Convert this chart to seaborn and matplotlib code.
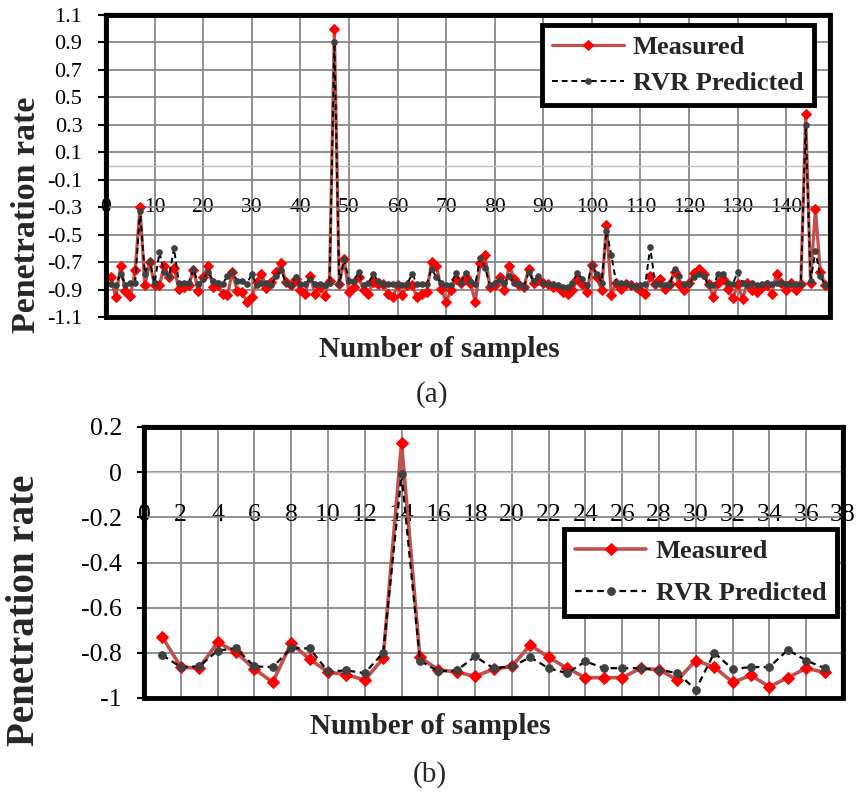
import matplotlib
matplotlib.use("Agg")
import matplotlib.pyplot as plt
from matplotlib.patches import Rectangle
import seaborn as sns
import pandas as pd

# ---- panel (a): 148 samples ----
measured_a = [
    -0.81, -0.955, -0.73, -0.91, -0.95, -0.76, -0.30, -0.87, -0.70, -0.87,
    -0.87, -0.725, -0.81, -0.74, -0.895, -0.88, -0.87, -0.76, -0.91, -0.81,
    -0.725, -0.88, -0.87, -0.93, -0.94, -0.775, -0.91, -0.92, -0.99, -0.955,
    -0.845, -0.785, -0.89, -0.845, -0.775, -0.71, -0.845, -0.87, -0.82, -0.905,
    -0.93, -0.80, -0.93, -0.88, -0.945, -0.835, 1.00, -0.86, -0.68, -0.92,
    -0.88, -0.81, -0.905, -0.93, -0.845, -0.86, -0.86, -0.93, -0.955, -0.87,
    -0.94, -0.87, -0.87, -0.955, -0.93, -0.92, -0.70, -0.725, -0.895, -0.99,
    -0.905, -0.82, -0.85, -0.81, -0.85, -0.99, -0.71, -0.65, -0.88, -0.87,
    -0.81, -0.905, -0.725, -0.82, -0.87, -0.88, -0.75, -0.85, -0.83, -0.85,
    -0.86, -0.88, -0.88, -0.92, -0.93, -0.905, -0.82, -0.86, -0.92, -0.72,
    -0.81, -0.905, -0.43, -0.94, -0.85, -0.895, -0.86, -0.87, -0.88, -0.905,
    -0.93, -0.80, -0.86, -0.82, -0.895, -0.86, -0.77, -0.86, -0.905, -0.85,
    -0.78, -0.75, -0.785, -0.86, -0.955, -0.85, -0.82, -0.895, -0.965, -0.86,
    -0.97, -0.85, -0.905, -0.92, -0.88, -0.87, -0.93, -0.785, -0.85, -0.905,
    -0.85, -0.905, -0.86, 0.378, -0.85, -0.31, -0.77, -0.865,
]
predicted_a = [
    -0.86, -0.865, -0.785, -0.865, -0.85, -0.85, -0.325, -0.785, -0.69, -0.855,
    -0.63, -0.775, -0.80, -0.60, -0.85, -0.85, -0.85, -0.75, -0.86, -0.82,
    -0.775, -0.835, -0.85, -0.86, -0.80, -0.775, -0.835, -0.835, -0.86, -0.785,
    -0.87, -0.85, -0.85, -0.87, -0.80, -0.76, -0.85, -0.87, -0.81, -0.86,
    -0.86, -0.82, -0.86, -0.86, -0.87, -0.85, 0.90, -0.86, -0.68, -0.835,
    -0.835, -0.775, -0.87, -0.85, -0.79, -0.835, -0.86, -0.86, -0.86, -0.86,
    -0.87, -0.86, -0.785, -0.86, -0.86, -0.86, -0.75, -0.81, -0.85, -0.87,
    -0.87, -0.78, -0.85, -0.78, -0.84, -0.86, -0.67, -0.74, -0.87, -0.85,
    -0.83, -0.85, -0.80, -0.85, -0.86, -0.88, -0.77, -0.84, -0.80, -0.85,
    -0.86, -0.86, -0.87, -0.88, -0.88, -0.85, -0.78, -0.82, -0.87, -0.72,
    -0.785, -0.85, -0.47, -0.65, -0.85, -0.85, -0.85, -0.87, -0.88, -0.87,
    -0.86, -0.59, -0.86, -0.86, -0.865, -0.865, -0.75, -0.80, -0.86, -0.86,
    -0.81, -0.785, -0.80, -0.87, -0.87, -0.785, -0.79, -0.85, -0.86, -0.77,
    -0.85, -0.87, -0.85, -0.87, -0.86, -0.85, -0.86, -0.85, -0.85, -0.86,
    -0.86, -0.86, -0.86, 0.30, -0.84, -0.62, -0.80, -0.87,
]
samples_a = list(range(1, len(measured_a) + 1))

# ---- panel (b): 37 samples ----
measured_b = [
    -0.73, -0.863, -0.868, -0.753, -0.797, -0.872, -0.93, -0.757, -0.828, -0.885,
    -0.897, -0.92, -0.825, 0.128, -0.82, -0.875, -0.885, -0.904, -0.872, -0.86,
    -0.765, -0.82, -0.868, -0.91, -0.91, -0.91, -0.868, -0.875, -0.92, -0.834,
    -0.863, -0.93, -0.90, -0.95, -0.91, -0.868, -0.887,
]
predicted_b = [
    -0.81, -0.863, -0.86, -0.79, -0.78, -0.86, -0.863, -0.78, -0.78, -0.882,
    -0.878, -0.89, -0.80, -0.01, -0.834, -0.882, -0.878, -0.816, -0.868, -0.86,
    -0.82, -0.868, -0.89, -0.838, -0.868, -0.868, -0.868, -0.875, -0.89, -0.963,
    -0.80, -0.872, -0.863, -0.863, -0.787, -0.834, -0.868,
]
samples_b = list(range(1, len(measured_b) + 1))

yticks_a = [1.1, 0.9, 0.7, 0.5, 0.3, 0.1, -0.1, -0.3, -0.5, -0.7, -0.9, -1.1]
xticks_a = list(range(0, 141, 10))
yticks_b = [0.2, 0, -0.2, -0.4, -0.6, -0.8, -1]
yticklabels_b = ["0.2", "0", "-0.2", "-0.4", "-0.6", "-0.8", "-1"]
xticks_b = list(range(0, 39, 2))

sns.set_theme(style="white")
plt.rcParams["font.family"] = ["Liberation Serif", "DejaVu Serif"]
plt.rcParams["axes.unicode_minus"] = False

fig = plt.figure(figsize=(8.57, 7.98), dpi=100)
W, H = 857, 798
ax1 = fig.add_axes([106 / W, 1 - 317 / H, 724 / W, 302 / H])
ax2 = fig.add_axes([144 / W, 1 - 698 / H, 699 / W, 271 / H])


def draw(ax, x, meas, pred, lw_m, ms_m, ms_p, lw_p):
    df = pd.DataFrame({"Sample": x, "Measured": meas, "RVR Predicted": pred})
    sns.lineplot(data=df, x="Sample", y="Measured", ax=ax, color="#C0504D",
                 linewidth=lw_m, marker="D", markersize=ms_m,
                 markerfacecolor="#FF0000", markeredgecolor="#FF0000",
                 label="Measured", zorder=3)
    sns.lineplot(data=df, x="Sample", y="RVR Predicted", ax=ax, color="black",
                 linewidth=lw_p, linestyle=(0, (3, 2)), marker="o",
                 markersize=ms_p, markerfacecolor="#404040",
                 markeredgecolor="#404040", label="RVR Predicted", zorder=4)


def style(ax, xtick_size, ytick_size, xpad, ylen):
    ax.set_axisbelow(True)
    ax.grid(True, color="#878787", linewidth=1.3)
    ax.spines["bottom"].set_position(("data", 0))
    ax.spines["bottom"].set_color("#BFBFBF")
    ax.spines["bottom"].set_linewidth(1)
    for s in ["left", "top", "right"]:
        ax.spines[s].set_color("black")
        ax.spines[s].set_linewidth(3)
    ax.add_patch(Rectangle((0, 0), 1, 1, transform=ax.transAxes, fill=False,
                           edgecolor="black", linewidth=3.5, clip_on=False,
                           zorder=6))
    ax.tick_params(axis="x", length=0, pad=xpad, labelsize=xtick_size,
                   colors="black")
    ax.tick_params(axis="y", left=True, direction="out", length=ylen,
                   width=1.5, color="black", labelsize=ytick_size,
                   labelcolor="black", pad=11)
    ax.set_xlabel("")
    ax.set_ylabel("")


def legend(ax, anchor, spacing):
    leg = ax.legend(loc="upper right", bbox_to_anchor=anchor, borderaxespad=0,
                    frameon=True, fancybox=False, framealpha=1,
                    edgecolor="black", handlelength=2.7, handletextpad=0.35,
                    labelspacing=spacing,
                    prop={"weight": "bold", "size": 19})
    leg.get_frame().set_linewidth(3.5)
    leg.set_zorder(10)


# panel (a)
draw(ax1, samples_a, measured_a, predicted_a, 2.3, 5, 4, 1.4)
ax1.set_xlim(0, 149)
ax1.set_ylim(-1.1, 1.1)
ax1.set_xticks(xticks_a)
ax1.set_yticks(yticks_a)
style(ax1, 15.5, 16, 23, 6)
legend(ax1, (0.978, 0.967), 0.47)

# panel (b)
draw(ax2, samples_b, measured_b, predicted_b, 2.6, 6.5, 5.5, 1.6)
ax2.set_xlim(0, 38)
ax2.set_ylim(-1, 0.2)
ax2.set_xticks(xticks_b)
ax2.set_yticks(yticks_b)
ax2.set_yticklabels(yticklabels_b)
style(ax2, 18.5, 18.5, 23, 5)
legend(ax2, (0.991, 0.624), 0.72)

# axis titles and panel captions
fig.text(439 / W, 1 - 349 / H, "Number of samples", ha="center", va="center",
         fontsize=21, weight="bold")
fig.text(432 / W, 1 - 395 / H, "(a)", ha="center", va="center", fontsize=21)
fig.text(430 / W, 1 - 727 / H, "Number of samples", ha="center", va="center",
         fontsize=21, weight="bold")
fig.text(430 / W, 1 - 775 / H, "(b)", ha="center", va="center", fontsize=21)
fig.text(27 / W, 1 - 215 / H, "Penetration rate", rotation=90, ha="center",
         va="center", fontsize=24.5, weight="bold")
fig.text(25 / W, 1 - 610 / H, "Penetration rate", rotation=90, ha="center",
         va="center", fontsize=28, weight="bold")

fig.savefig("out.png", dpi=100)
